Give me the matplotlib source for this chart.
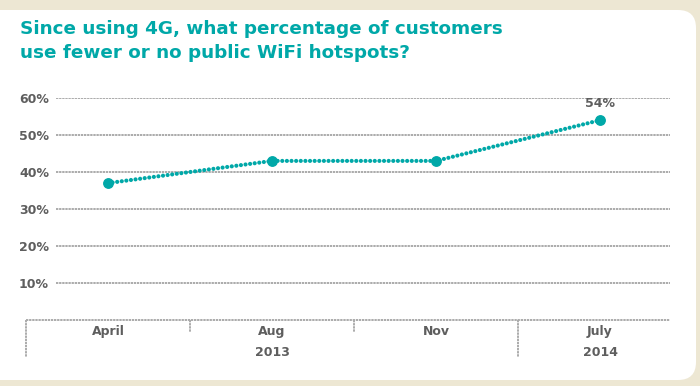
import matplotlib.pyplot as plt
from matplotlib.patches import FancyBboxPatch
import matplotlib.transforms as mtrans

# data
months = ['April', 'Aug', 'Nov', 'July']
values = [37, 43, 43, 54]
years = ['2013', '2014']
year_spans = [(0, 2), (3, 3)]
yticks = [10, 20, 30, 40, 50, 60]

teal = '#00A8A8'
grey = '#5E5E5E'
beige = '#EDE7D3'
dotgrey = '#ABABAB'

fig = plt.figure(figsize=(7, 3.86), dpi=100, facecolor=beige)

# white rounded panel (pixel coords, y from top)
panel = FancyBboxPatch((-20, 10), 716, 370, boxstyle='round,pad=0,rounding_size=18',
                       facecolor='white', edgecolor='none', zorder=-5)
panel.set_transform(mtrans.Affine2D().scale(1 / 700, -1 / 386).translate(0, 1) + fig.transFigure)
fig.patches.append(panel)

fig.text(20 / 700, 1 - 20 / 386, 'Since using 4G, what percentage of customers\nuse fewer or no public WiFi hotspots?',
         color=teal, fontsize=13.2, fontweight='bold', va='top', ha='left', linespacing=1.45)

ax = fig.add_axes([56 / 700, 66 / 386, 614 / 700, 222 / 386])
ax.set_facecolor('none')
x_left = -0.5 + (56 - 26) / 164
x_right = -0.5 + (670 - 26) / 164
ax.set_xlim(x_left, x_right)
ax.set_ylim(0, 60)
for s in ax.spines.values():
    s.set_visible(False)

ax.set_yticks(yticks)
ax.set_yticklabels([f'{t}%' for t in yticks], color=grey, fontsize=9, fontweight='bold')
ax.tick_params(axis='y', length=0, pad=5)
ax.set_xticks([])
for t in yticks:
    ax.axhline(t, color=dotgrey, lw=1.4, ls=(0, (1.2, 0.4)), zorder=1)

x = list(range(len(months)))
ax.plot(x, values, color=teal, lw=3, ls=(0, (0.01, 1.1)), dash_capstyle='round', zorder=3)
ax.plot(x, values, color=teal, lw=0, marker='o', ms=6.8, zorder=4)
ax.annotate(f'{values[-1]}%', (x[-1], values[-1]), xytext=(0, 7), textcoords='offset points',
            ha='center', va='bottom', color=grey, fontsize=9, fontweight='bold')

# category axis below
ax.plot([-0.5, x_right], [0, 0], color=dotgrey, lw=1.4, ls=(0, (1.2, 0.4)), clip_on=False)
for i, m in enumerate(months):
    ax.text(i, -3.1, m, ha='center', va='center', color=grey, fontsize=9, fontweight='bold')
for (a, b), yr in zip(year_spans, years):
    ax.text((a + b) / 2, -8.9, yr, ha='center', va='center', color=grey, fontsize=9, fontweight='bold')
    ax.plot([a - 0.5, a - 0.5], [0, -10.1], color=dotgrey, lw=1.4, ls=(0, (1.2, 0.4)), clip_on=False)
for i in range(len(months)):
    if not any(a == i for a, b in year_spans):
        ax.plot([i - 0.5, i - 0.5], [0, -3.3], color=dotgrey, lw=1.4, ls=(0, (1.2, 0.4)), clip_on=False)

fig.savefig('out.png', dpi=100, facecolor=beige)
